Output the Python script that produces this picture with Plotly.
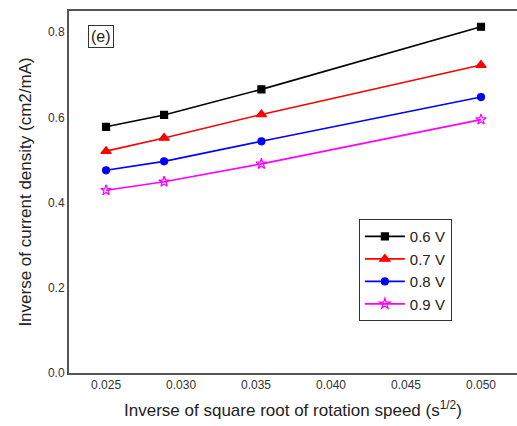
import plotly.graph_objects as go

# Inverse square-root rotation speed (s^1/2) for 1600, 1200, 800, 400
inv_sqrt_speed = [0.0250, 0.02887, 0.03536, 0.0500]

series_names = ["0.6 V", "0.7 V", "0.8 V", "0.9 V"]
inv_j_06 = [0.578, 0.606, 0.666, 0.813]
inv_j_07 = [0.521, 0.552, 0.607, 0.723]
inv_j_08 = [0.476, 0.497, 0.544, 0.648]
inv_j_09 = [0.429, 0.449, 0.491, 0.595]

y_ticks = [0.0, 0.2, 0.4, 0.6, 0.8]
x_ticks = [0.025, 0.030, 0.035, 0.040, 0.045, 0.050]

styles = [
    ("black", "square", 7),
    ("red", "triangle-up", 9),
    ("blue", "circle", 7),
    ("magenta", "star-open", 8),
]

fig = go.Figure()
for name, ys, (color, symbol, size) in zip(
    series_names, [inv_j_06, inv_j_07, inv_j_08, inv_j_09], styles
):
    fig.add_trace(
        go.Scatter(
            x=inv_sqrt_speed,
            y=ys,
            mode="lines+markers",
            name=name,
            line=dict(color=color, width=1.6),
            marker=dict(color=color, symbol=symbol, size=size,
                        line=dict(color=color, width=1.2)),
        )
    )

FONT = "Liberation Sans, Arial, sans-serif"
tick_font = dict(family=FONT, size=12, color="#333333")
title_font = dict(family=FONT, size=17, color="#222222")

fig.update_layout(
    width=517,
    height=426,
    margin=dict(l=69, r=0, t=11, b=53, autoexpand=False),
    paper_bgcolor="white",
    plot_bgcolor="white",
    showlegend=True,
    legend=dict(
        x=0.647, y=0.425, xanchor="left", yanchor="top",
        bordercolor="#333333", borderwidth=1, bgcolor="white",
        font=dict(family=FONT, size=15, color="#222222"),
        tracegroupgap=0, itemwidth=40,
    ),
    xaxis=dict(
        range=[0.02253, 0.0524],
        tickvals=x_ticks,
        ticktext=[f"{v:.3f}" for v in x_ticks],
        showgrid=False, zeroline=False, automargin=False,
        showline=True, linecolor="#555555", linewidth=2, mirror=True,
        ticks="", tickfont=tick_font,
        title=dict(text="Inverse of square root of rotation speed (s<sup>1/2</sup>)",
                   font=title_font, standoff=13),
    ),
    yaxis=dict(
        range=[0.0, 0.85],
        tickvals=y_ticks,
        ticktext=[f"{v:.1f}" for v in y_ticks],
        showgrid=False, zeroline=False, automargin=False,
        showline=True, linecolor="#555555", linewidth=2, mirror=False,
        ticks="", tickfont=tick_font,
        title=dict(text="Inverse of current density (cm2/mA)",
                   font=title_font, standoff=12),
    ),
    annotations=[
        dict(
            text="(e)", x=0.043, y=0.96, xref="paper", yref="paper",
            xanchor="left", yanchor="top", showarrow=False,
            font=dict(family=FONT, size=16, color="#222222"),
            bordercolor="#333333", borderwidth=1, borderpad=2, bgcolor="white",
        )
    ],
)

fig.write_html("out.html")
